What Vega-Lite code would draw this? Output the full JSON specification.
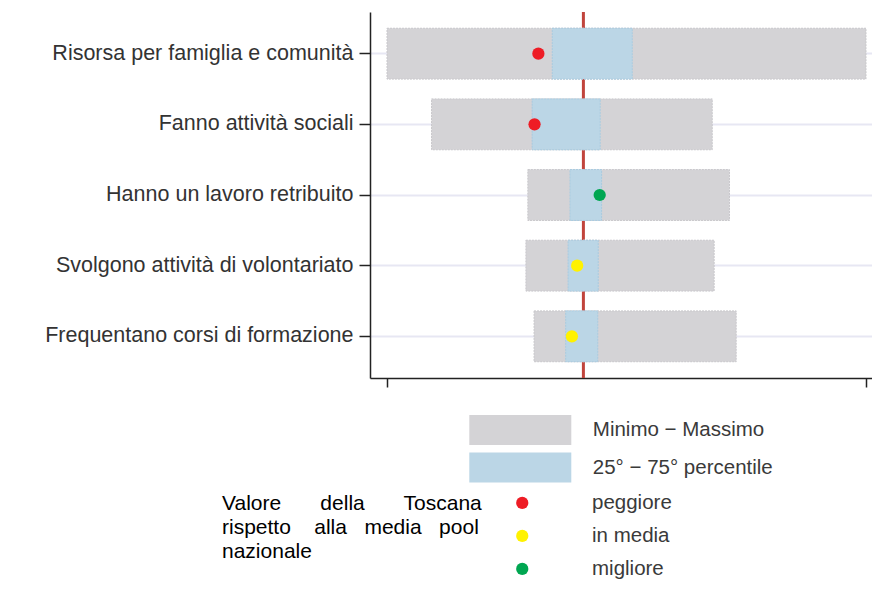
{
  "$schema": "https://vega.github.io/schema/vega-lite/v6.json",
  "width": 502,
  "height": 366,
  "autosize": {"type": "none"},
  "padding": {"left": 370, "top": 12, "right": 0, "bottom": 212},
  "background": "white",
  "config": {"view": {"stroke": null}, "font": "Liberation Sans"},
  "datasets": {
    "ranges": [
      {"indicatore": "Risorsa per famiglia e comunità", "tipo": "Minimo − Massimo", "inizio": 0, "fine": 100},
      {"indicatore": "Fanno attività sociali", "tipo": "Minimo − Massimo", "inizio": 9.3, "fine": 67.9},
      {"indicatore": "Hanno un lavoro retribuito", "tipo": "Minimo − Massimo", "inizio": 29.4, "fine": 71.5},
      {"indicatore": "Svolgono attività di volontariato", "tipo": "Minimo − Massimo", "inizio": 29.0, "fine": 68.3},
      {"indicatore": "Frequentano corsi di formazione", "tipo": "Minimo − Massimo", "inizio": 30.7, "fine": 72.9},
      {"indicatore": "Risorsa per famiglia e comunità", "tipo": "25° − 75° percentile", "inizio": 34.5, "fine": 51.2},
      {"indicatore": "Fanno attività sociali", "tipo": "25° − 75° percentile", "inizio": 30.3, "fine": 44.5},
      {"indicatore": "Hanno un lavoro retribuito", "tipo": "25° − 75° percentile", "inizio": 38.2, "fine": 44.8},
      {"indicatore": "Svolgono attività di volontariato", "tipo": "25° − 75° percentile", "inizio": 37.8, "fine": 44.1},
      {"indicatore": "Frequentano corsi di formazione", "tipo": "25° − 75° percentile", "inizio": 37.3, "fine": 44.0}
    ],
    "points": [
      {"indicatore": "Risorsa per famiglia e comunità", "valore": 31.6, "giudizio": "peggiore"},
      {"indicatore": "Fanno attività sociali", "valore": 30.8, "giudizio": "peggiore"},
      {"indicatore": "Hanno un lavoro retribuito", "valore": 44.4, "giudizio": "migliore"},
      {"indicatore": "Svolgono attività di volontariato", "valore": 39.7, "giudizio": "in media"},
      {"indicatore": "Frequentano corsi di formazione", "valore": 38.6, "giudizio": "in media"}
    ],
    "media": [{"media_pool": 41.0}]
  },
  "layer": [
    {
      "data": {"name": "media"},
      "mark": {"type": "rule", "color": "#c1443c", "strokeWidth": 3},
      "encoding": {
        "x": {"field": "media_pool", "type": "quantitative"}
      }
    },
    {
      "data": {"name": "ranges"},
      "mark": {"type": "bar", "strokeWidth": 1, "strokeDash": [2, 1]},
      "encoding": {
        "y": {
          "field": "indicatore",
          "type": "nominal",
          "sort": ["Risorsa per famiglia e comunità", "Fanno attività sociali", "Hanno un lavoro retribuito", "Svolgono attività di volontariato", "Frequentano corsi di formazione"],
          "scale": {"paddingInner": 0.28, "paddingOuter": 0.23},
          "axis": {
            "title": null,
            "bandPosition": 0.5,
            "grid": true,
            "gridColor": "#e7e7f3",
            "gridWidth": 2,
            "domainColor": "#222222",
            "domainWidth": 1.5,
            "tickColor": "#222222",
            "tickWidth": 1.5,
            "tickSize": 11,
            "labelPadding": 6,
            "labelFont": "Liberation Sans",
            "labelFontSize": 21.5,
            "labelColor": "#333333",
            "labelLimit": 400
          }
        },
        "x": {
          "field": "inizio",
          "type": "quantitative",
          "scale": {"domain": [-3.55, 101.25], "nice": false, "zero": false},
          "axis": {
            "title": null,
            "values": [0, 100],
            "labels": false,
            "grid": false,
            "domainColor": "#222222",
            "domainWidth": 1.5,
            "tickColor": "#222222",
            "tickWidth": 1.5,
            "tickSize": 9
          }
        },
        "x2": {"field": "fine"},
        "fill": {
          "field": "tipo",
          "type": "nominal",
          "scale": {"domain": ["Minimo − Massimo", "25° − 75° percentile"], "range": ["#d4d3d6", "#bbd6e6"]},
          "legend": {
            "orient": "none",
            "legendX": 99.3,
            "legendY": 403,
            "title": null,
            "padding": 0,
            "symbolType": "M-1,-1H5.8V1H-1Z",
            "symbolSize": 900,
            "symbolStrokeWidth": 0,
            "labelFont": "Liberation Sans",
            "labelFontSize": 20.5,
            "labelColor": "#3a3a3a",
            "labelOffset": 93.5,
            "rowPadding": 7.5,
            "labelLimit": 400
          }
        },
        "stroke": {
          "field": "tipo",
          "type": "nominal",
          "scale": {"domain": ["Minimo − Massimo", "25° − 75° percentile"], "range": ["#c8c7cb", "#a9cbe0"]},
          "legend": null
        }
      }
    },
    {
      "data": {"name": "points"},
      "mark": {"type": "point", "filled": true, "size": 150, "opacity": 1, "shape": "circle"},
      "encoding": {
        "y": {"field": "indicatore", "type": "nominal", "sort": ["Risorsa per famiglia e comunità", "Fanno attività sociali", "Hanno un lavoro retribuito", "Svolgono attività di volontariato", "Frequentano corsi di formazione"]},
        "x": {"field": "valore", "type": "quantitative"},
        "color": {
          "field": "giudizio",
          "type": "nominal",
          "scale": {"domain": ["peggiore", "in media", "migliore"], "range": ["#ee1c25", "#fff200", "#00a651"]},
          "legend": {
            "orient": "none",
            "legendX": -148,
            "legendY": 480.7,
            "padding": 0,
            "title": ["Valore\u00a0\u00a0\u00a0\u00a0\u00a0\u2009 della\u00a0\u00a0\u00a0\u00a0\u00a0\u2009 Toscana", "rispetto\u00a0\u00a0\u00a0 alla\u00a0\u00a0 media\u00a0\u00a0 pool", "nazionale"],
            "titleOrient": "left",
            "titleFont": "Liberation Sans",
            "titleFontSize": 21,
            "titleFontWeight": "normal",
            "titleColor": "#000000",
            "titleLineHeight": 24.3,
            "titleAlign": "left",
            "titleAnchor": "start",
            "titleBaseline": "top",
            "titlePadding": 29,
            "titleLimit": 400,
            "symbolType": "circle",
            "symbolSize": 150,
            "symbolStrokeWidth": 0,
            "labelFont": "Liberation Sans",
            "labelFontSize": 20.5,
            "labelColor": "#3a3a3a",
            "labelOffset": 59.5,
            "rowPadding": 12,
            "labelLimit": 400
          }
        }
      }
    }
  ]
}
